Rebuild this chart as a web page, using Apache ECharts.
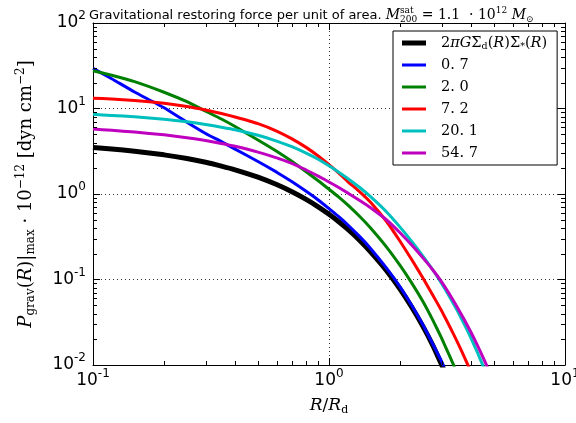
<!DOCTYPE html>
<html><head><meta charset="utf-8">
<script src="https://cdn.jsdelivr.net/npm/echarts@6/dist/echarts.min.js"></script>
<style>html,body{margin:0;padding:0;background:#fff}#c{width:576px;height:423px}</style>
</head><body><div id="c"></div>
<script>
// ---- data ----
const R = [0.1, 0.12, 0.15, 0.2, 0.25, 0.3, 0.35, 0.4, 0.5, 0.6, 0.7, 0.8, 0.9, 1.0, 1.1, 1.2, 1.35, 1.5, 1.75, 2.0, 2.25, 2.5, 2.75, 3.0, 3.25, 3.5, 3.75, 4.0, 4.25, 4.5, 4.75, 5.0];
const restoring = [3.50, 3.36, 3.17, 2.87, 2.60, 2.35, 2.12, 1.92, 1.575, 1.29, 1.056, 0.865, 0.708, 0.579, 0.474, 0.388, 0.287, 0.211, 0.128, 0.0775, 0.0468, 0.0283, 0.0171, 0.0101, 0.0061];
const sat07  = [29.5, 22.3, 15.6, 10.2, 6.9, 5.1, 4.1, 3.35, 2.40, 1.80, 1.38, 1.075, 0.851, 0.675, 0.543, 0.437, 0.317, 0.231, 0.1366, 0.082, 0.0489, 0.0295, 0.0177, 0.0110, 0.0066];
const sat20  = [27.7, 24.5, 20.6, 15.5, 12.0, 9.3, 7.53, 6.15, 4.28, 3.16, 2.38, 1.82, 1.43, 1.135, 0.92, 0.745, 0.545, 0.40, 0.241, 0.146, 0.0894, 0.0552, 0.0337, 0.0206, 0.0126, 0.0079];
const sat72  = [13.2, 12.9, 12.4, 11.5, 10.55, 9.6, 8.75, 7.95, 6.65, 5.45, 4.39, 3.51, 2.78, 2.20, 1.75, 1.40, 1.06, 0.80, 0.48, 0.28, 0.168, 0.104, 0.066, 0.043, 0.028, 0.0185, 0.0123, 0.0082];
const sat201 = [8.55, 8.3, 8.0, 7.5, 7.0, 6.5, 6.05, 5.65, 4.86, 4.16, 3.55, 3.01, 2.55, 2.14, 1.80, 1.52, 1.19, 0.93, 0.62, 0.41, 0.275, 0.188, 0.13, 0.090, 0.062, 0.043, 0.0297, 0.0205, 0.0141, 0.0097, 0.0066];
const sat547 = [5.75, 5.55, 5.3, 4.92, 4.56, 4.22, 3.9, 3.61, 3.09, 2.65, 2.27, 1.91, 1.62, 1.38, 1.19, 1.03, 0.84, 0.69, 0.50, 0.352, 0.25, 0.179, 0.13, 0.094, 0.0665, 0.047, 0.0336, 0.024, 0.0171, 0.0122, 0.0087, 0.0062];
const seriesNames = ['restoring', '0.7', '2.0', '7.2', '20.1', '54.7'];
const seriesValues = [restoring, sat07, sat20, sat72, sat201, sat547];
const seriesColors = ['#000000', '#0000ff', '#008000', '#ff0000', '#00bfbf', '#bf00bf'];
const xMinor = [0.2, 0.3, 0.4, 0.5, 0.6, 0.7, 0.8, 0.9, 2, 3, 4, 5, 6, 7, 8, 9];
const yMinor = [0.02,0.03,0.04,0.05,0.06,0.07,0.08,0.09,0.2,0.3,0.4,0.5,0.6,0.7,0.8,0.9,2,3,4,5,6,7,8,9,20,30,40,50,60,70,80,90];

const SERIF = 'DejaVu Serif';
const SANS = 'DejaVu Sans';
const legendText = {
  'restoring': '{n|2}{i|πG}{n|Σ}{sb|d}{n|(}{i|R}{n|)Σ}{sb|*}{n|(}{i|R}{n|)}',
  '0.7': '{n|0. 7}', '2.0': '{n|2. 0}', '7.2': '{n|7. 2}', '20.1': '{n|20. 1}', '54.7': '{n|54. 7}'
};
const tickRich = {
  b: {fontFamily: SANS, fontSize: 17, color: '#000'},
  s: {fontFamily: SANS, fontSize: 12, color: '#000', padding: [0, 0, 14, 0]}
};
function powLabel(v) {
  const e = Math.round(Math.log10(v));
  return '{b|10}{s|' + e + '}';
}
function minorTicks(vals, isX) {
  return {
    type: 'custom', silent: true, z: 5, clip: false,
    data: vals.map(v => isX ? [v, 1] : [1, v]),
    renderItem(params, api) {
      const cs = params.coordSys;
      const p = api.coord([api.value(0), api.value(1)]);
      const L = 4, st = {stroke: '#000', lineWidth: 1};
      if (isX) {
        const x = Math.round(p[0]) + 0.5;
        return {type: 'group', children: [
          {type: 'line', shape: {x1: x, y1: cs.y + cs.height, x2: x, y2: cs.y + cs.height - L}, style: st},
          {type: 'line', shape: {x1: x, y1: cs.y, x2: x, y2: cs.y + L}, style: st}]};
      }
      const y = Math.round(p[1]) + 0.5;
      return {type: 'group', children: [
        {type: 'line', shape: {x1: cs.x, y1: y, x2: cs.x + L, y2: y}, style: st},
        {type: 'line', shape: {x1: cs.x + cs.width, y1: y, x2: cs.x + cs.width - L, y2: y}, style: st}]};
    }
  };
}

const chart = echarts.init(document.getElementById('c'), null, {renderer: 'canvas'});
const lineSeries = seriesNames.map((n, i) => ({
  name: n, type: 'line', showSymbol: false, symbol: 'none', smooth: 0.15,
  clip: true, z: 3,
  lineStyle: {color: seriesColors[i], width: i === 0 ? 5 : 3},
  itemStyle: {color: seriesColors[i]},
  data: seriesValues[i].map((v, k) => [R[k], v])
}));

const axisCommon = {
  axisLine: {show: true, onZero: false, lineStyle: {color: '#000', width: 1}},
  axisTick: {show: true, inside: true, length: 7, lineStyle: {color: '#000', width: 1}}
};

chart.setOption({
  animation: false,
  backgroundColor: '#fff',
  title: {
    left: 84, top: 1,
    text: '{a|Gravitational restoring force per unit of area. }{m|M}{sp|sat}{sb|200}{r| = 1.1  · 10}{sq|12}{m| M}{sb|⊙}',
    textStyle: {
      fontWeight: 'normal',
      rich: {
        a: {fontFamily: SANS, fontSize: 13, fontWeight: 'normal', color: '#000'},
        m: {fontFamily: SERIF, fontStyle: 'italic', fontWeight: 'normal', fontSize: 14, color: '#000'},
        r: {fontFamily: SERIF, fontWeight: 'normal', fontSize: 14, color: '#000'},
        sp: {fontFamily: SERIF, fontWeight: 'normal', fontSize: 9, color: '#000', width: 0.1, padding: [0, 0, 10, 0]},
        sq: {fontFamily: SERIF, fontWeight: 'normal', fontSize: 9, color: '#000', padding: [0, 0, 10, 0]},
        sb: {fontFamily: SERIF, fontWeight: 'normal', fontSize: 9, color: '#000', padding: [8, 0, 0, 0]}
      }
    }
  },
  grid: {left: 93, right: 11, top: 23, bottom: 58, containLabel: false, outerBoundsMode: 'none'},
  legend: {
    orient: 'vertical', left: 393, top: 31,
    data: seriesNames.map((n, i) => ({
      name: n,
      icon: i === 0 ? 'path://M0,0H24V5H0Z' : 'path://M0,0H24V3H0Z',
      itemStyle: {color: seriesColors[i]}
    })),
    itemWidth: 24, itemHeight: 14, itemGap: 4,
    symbolKeepAspect: true,
    padding: [3, 10, 3, 9],
    borderColor: '#000', borderWidth: 1, borderRadius: 0, backgroundColor: '#fff',
    selectedMode: false,
    formatter: n => legendText[n],
    textStyle: {
      padding: [0, 0, 0, 10], lineHeight: 18,
      rich: {
        n: {fontFamily: SERIF, fontSize: 14.5, color: '#000'},
        i: {fontFamily: SERIF, fontStyle: 'italic', fontSize: 14.5, color: '#000'},
        sb: {fontFamily: SERIF, fontSize: 9.5, color: '#000', padding: [7, 0, 0, 0]}
      }
    }
  },
  xAxis: [
    Object.assign({
      type: 'log', logBase: 10, min: 0.1, max: 10, position: 'bottom',
      axisLabel: {formatter: powLabel, margin: 3, rich: tickRich},
      splitLine: {show: true, lineStyle: {color: '#333', type: [1, 3], width: 1}},
      name: '{i|R}{n|/}{i|R}{sb|d}', nameLocation: 'middle', nameGap: 31,
      nameTextStyle: {rich: {
        i: {fontFamily: SERIF, fontStyle: 'italic', fontSize: 17, color: '#000'},
        n: {fontFamily: SERIF, fontSize: 17, color: '#000'},
        sb: {fontFamily: SERIF, fontSize: 11, color: '#000', padding: [9, 0, 0, 0]}
      }}
    }, axisCommon),
    Object.assign({
      type: 'log', logBase: 10, min: 0.1, max: 10, position: 'top',
      axisLabel: {show: false}, splitLine: {show: false}
    }, axisCommon)
  ],
  yAxis: [
    Object.assign({
      type: 'log', logBase: 10, min: 0.01, max: 100, position: 'left',
      axisLabel: {formatter: powLabel, margin: 7, rich: tickRich},
      splitLine: {show: true, lineStyle: {color: '#333', type: [1, 3], width: 1}},
      name: '{i|P}{sb|grav}{n|(}{i|R}{n|)|}{sb|max}{n| · 10}{sp|−12}{n| [dyn cm}{sp|−2}{n|]}',
      nameLocation: 'middle', nameRotate: 90, nameGap: 55,
      nameTextStyle: {rich: {
        i: {fontFamily: SERIF, fontStyle: 'italic', fontSize: 18, color: '#000'},
        n: {fontFamily: SERIF, fontSize: 18, color: '#000'},
        sb: {fontFamily: SERIF, fontSize: 12, color: '#000', padding: [9, 0, 0, 0]},
        sp: {fontFamily: SERIF, fontSize: 12, color: '#000', padding: [0, 0, 11, 0]}
      }}
    }, axisCommon),
    Object.assign({
      type: 'log', logBase: 10, min: 0.01, max: 100, position: 'right',
      axisLabel: {show: false}, splitLine: {show: false}
    }, axisCommon)
  ],
  series: lineSeries.concat([minorTicks(xMinor, true), minorTicks(yMinor, false)])
});
</script></body></html>
